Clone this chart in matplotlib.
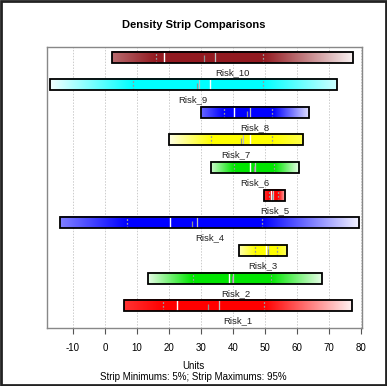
import numpy as np
import matplotlib
matplotlib.use("Agg")
import matplotlib.pyplot as plt
from matplotlib.colors import to_rgb
from matplotlib.patches import Rectangle

plt.rcParams["font.family"] = ["Liberation Sans", "DejaVu Sans"]

# strips, bottom to top
names = ["Risk_1", "Risk_2", "Risk_3", "Risk_4", "Risk_5",
         "Risk_6", "Risk_7", "Risk_8", "Risk_9", "Risk_10"]
colors = ["#ff0000", "#00e600", "#ffff00", "#0000ff", "#ff0000",
          "#00e600", "#ffff00", "#0000ff", "#00ffff", "#931a20"]
lows = [5.9, 13.6, 41.9, -13.9, 49.6, 33.1, 19.9, 29.9, -17.2, 2.2]
highs = [77.3, 67.9, 57.0, 79.4, 56.3, 60.5, 61.8, 63.8, 72.4, 77.5]
q1s = [18.1, 27.4, 46.9, 7.0, 51.1, 40.3, 33.1, 37.1, 8.75, 15.8]
q3s = [49.7, 51.9, 53.6, 49.1, 54.0, 52.9, 52.3, 52.3, 49.4, 49.4]
modes = [22.5, 38.9, 50.3, 20.2, 51.9, 45.3, 45.3, 40.3, 32.8, 18.6]
medians = [32.3, 39.6, 50.8, 27.1, 52.3, 46.6, 42.4, 44.4, 28.8, 31.0]
means = [35.6, 40.0, 50.9, 28.8, 52.6, 46.9, 43.0, 45.3, 29.4, 34.3]
edge_lo = [0.8, 0.1, 0.3, 0.5, 0.8, 0.2, 0.1, 0.6, 0.05, 0.65]
edge_hi = [0.05, 0.1, 0.6, 0.05, 0.2, 0.1, 0.7, 0.1, 0.2, 0.05]
xticks = [-10, 0, 10, 20, 30, 40, 50, 60, 70, 80]

fig = plt.figure(figsize=(3.87, 3.86), dpi=100)
ax = fig.add_axes([0.1214, 0.150, 0.814, 0.728])

h = 0.4
for i, name in enumerate(names):
    y = i + 1
    xs = np.linspace(lows[i], highs[i], 300)
    inten = np.interp(xs, [lows[i], q1s[i], q3s[i], highs[i]],
                      [edge_lo[i], 1.0, 1.0, edge_hi[i]])
    base = np.array(to_rgb(colors[i]))
    rgb = 1 - inten[:, None] * (1 - base[None, :])
    ax.imshow(rgb[None, :, :], extent=(lows[i], highs[i], y - h / 2, y + h / 2),
              aspect="auto", interpolation="bilinear", zorder=2)
    ax.add_patch(Rectangle((lows[i], y - h / 2), highs[i] - lows[i], h,
                           fill=False, ec="black", lw=1.3, zorder=4))
    ax.vlines(modes[i], y - h / 2, y + h / 2, color="white", lw=1.0, zorder=3)
    ax.vlines(means[i], y - h / 2, y + h / 2, color="#c0c0c0", lw=0.9, zorder=3)
    ax.vlines(medians[i], y - h / 2, y + h * 0.15, color="#909090", lw=0.9, zorder=3)
    for q in (q1s[i], q3s[i]):
        ax.vlines(q, y - h / 2, y + h / 2, color="#999999", lw=0.9,
                  linestyles=(0, (1.5, 1.5)), zorder=3)
    ax.text((lows[i] + highs[i]) / 2, y - 0.55, name, ha="center", va="center",
            fontsize=6.8, color="#222222")

ax.set_xlim(-18.1, 80.3)
ax.set_ylim(0.19, 10.36)
ax.set_xticks(xticks)
ax.set_xticklabels([str(t) for t in xticks], fontsize=7)
ax.set_yticks([])
ax.tick_params(axis="x", length=4, width=0.8, color="#555555", pad=7)
ax.grid(axis="x", color="#cccccc", ls=(0, (1.5, 1.5)), lw=0.7, zorder=0)
ax.set_axisbelow(True)
for s in ax.spines.values():
    s.set_color("#888888")
    s.set_linewidth(1.0)

fig.text(0.5, 1 - 25 / 386, "Density Strip Comparisons", ha="center", va="center",
         fontsize=8, fontweight="bold")
fig.text(0.5, 1 - 366 / 386, "Units", ha="center", va="center", fontsize=7)
fig.text(0.5, 1 - 377 / 386, "Strip Minimums: 5%; Strip Maximums: 95%",
         ha="center", va="center", fontsize=7)
fig.add_artist(Rectangle((0.003, 0.003), 0.994, 0.994, transform=fig.transFigure,
                         fill=False, ec="#222222", lw=2))

fig.savefig("out.png", dpi=100)
